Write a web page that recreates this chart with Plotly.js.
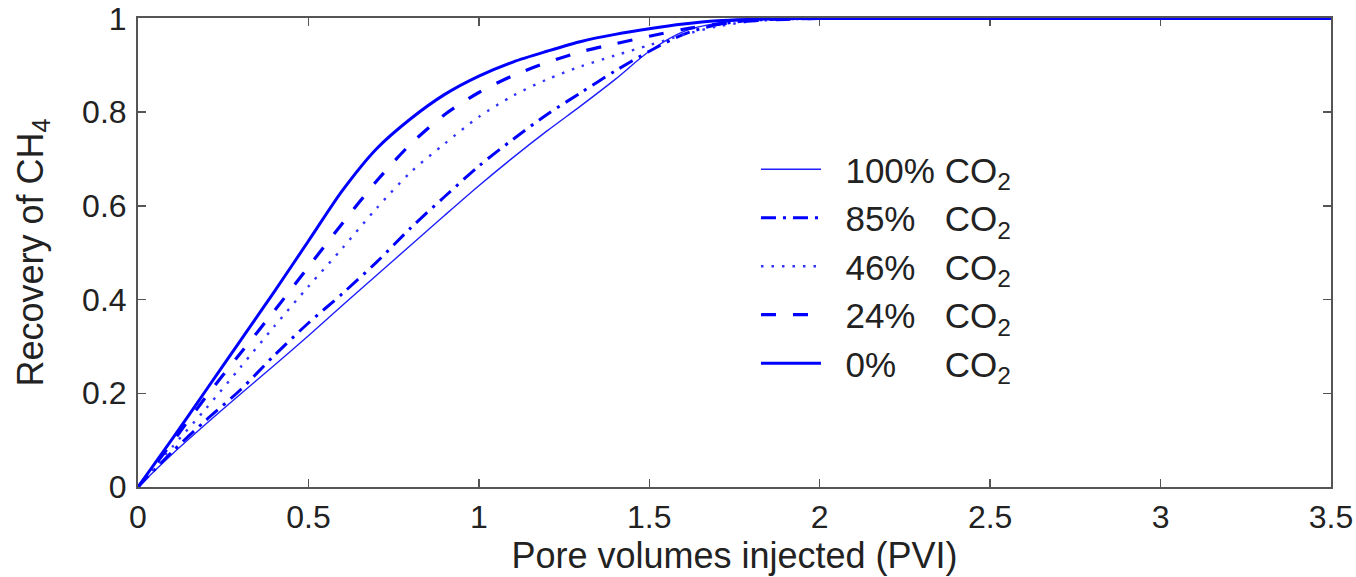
<!DOCTYPE html>
<html>
<head>
<meta charset="utf-8">
<script src="https://cdn.plot.ly/plotly-3.0.1.min.js"></script>
<style>html,body{margin:0;padding:0;background:#fff;}#chart{width:1356px;height:577px;}</style>
</head>
<body>
<div id="chart"></div>
<script>
// Pore volumes injected (PVI)
const pvi = [0, 0.1, 0.2, 0.3, 0.4, 0.5, 0.6, 0.7, 0.8, 0.9, 1.0, 1.1, 1.2, 1.3, 1.4, 1.5, 1.6, 1.7, 1.8, 1.9, 2.0, 2.5, 3.0, 3.5];

// Recovery of CH4 for each injected gas composition
const rec100 = [0, 0.070, 0.135, 0.198, 0.260, 0.323, 0.388, 0.452, 0.516, 0.580, 0.643, 0.703, 0.760, 0.814, 0.870, 0.930, 0.972, 0.990, 0.997, 0.999, 1, 1, 1, 1];
const rec85  = [0, 0.075, 0.143, 0.207, 0.281, 0.350, 0.413, 0.480, 0.553, 0.620, 0.685, 0.742, 0.795, 0.842, 0.888, 0.930, 0.966, 0.987, 0.996, 0.999, 1, 1, 1, 1];
const rec46  = [0, 0.085, 0.168, 0.255, 0.343, 0.428, 0.510, 0.595, 0.672, 0.733, 0.790, 0.835, 0.870, 0.898, 0.921, 0.943, 0.965, 0.983, 0.994, 0.998, 1, 1, 1, 1];
const rec24  = [0, 0.095, 0.193, 0.285, 0.376, 0.470, 0.563, 0.653, 0.732, 0.795, 0.842, 0.878, 0.906, 0.929, 0.946, 0.962, 0.977, 0.988, 0.995, 0.998, 1, 1, 1, 1];
const rec0   = [0, 0.102, 0.207, 0.312, 0.417, 0.525, 0.633, 0.722, 0.786, 0.838, 0.877, 0.907, 0.930, 0.951, 0.966, 0.978, 0.988, 0.995, 0.998, 1, 1, 1, 1, 1];

// Axis tick values
const xTicks = [0, 0.5, 1, 1.5, 2, 2.5, 3, 3.5];
const yTicks = [0, 0.2, 0.4, 0.6, 0.8, 1];

const NB = '\u00a0';
const names = [
  NB + NB + '100%' + NB + 'CO<sub>2</sub>',
  NB + NB + '85%' + NB + NB + NB + 'CO<sub>2</sub>',
  NB + NB + '46%' + NB + NB + NB + 'CO<sub>2</sub>',
  NB + NB + '24%' + NB + NB + NB + 'CO<sub>2</sub>',
  NB + NB + '0%' + NB + NB + NB + NB + NB + 'CO<sub>2</sub>'
];
const series = [rec100, rec85, rec46, rec24, rec0];
const styles = [
  {color: 'rgb(30,30,255)', width: 1.4, dash: 'solid'},
  {color: 'rgb(0,0,255)', width: 3, dash: '15px,7px,3px,7px'},
  {color: 'rgb(50,50,255)', width: 2.4, dash: '2.5px,8px'},
  {color: 'rgb(0,0,255)', width: 3.2, dash: '15px,17px'},
  {color: 'rgb(0,0,255)', width: 3, dash: 'solid'}
];

const traces = series.map((ys, i) => ({
  x: pvi, y: ys, type: 'scatter', mode: 'lines', name: names[i], legendgroup: 'g' + i,
  line: Object.assign({shape: 'spline', smoothing: 0.8}, styles[i])
}));

const fam = 'Liberation Sans, Arial, Helvetica, sans-serif';
const tickFnt = {family: fam, size: 32, color: '#222'};
const titleFnt = {family: fam, size: 36, color: '#222'};

const layout = {
  width: 1356, height: 577,
  margin: {l: 138, r: 25, t: 18, b: 90},
  paper_bgcolor: '#fff', plot_bgcolor: '#fff',
  font: titleFnt,
  showlegend: true,
  legend: {x: 0.518, y: 0.74, xanchor: 'left', yanchor: 'top', bgcolor: 'rgba(0,0,0,0)',
           font: {family: fam, size: 35, color: '#222'}, itemwidth: 60, tracegroupgap: 0},
  xaxis: {
    range: [0, 3.5], tickvals: xTicks,
    ticks: 'inside', ticklen: 8, tickwidth: 1.5, tickcolor: '#555',
    showline: true, linecolor: '#555', linewidth: 2, mirror: 'ticks',
    showgrid: false, zeroline: false, layer: 'below traces',
    tickfont: tickFnt, ticklabelstandoff: 1, ticklabeloverflow: 'allow',
    title: {text: 'Pore volumes injected (PVI)', font: titleFnt, standoff: 2}
  },
  yaxis: {
    range: [0, 1.001], tickvals: yTicks,
    ticks: 'inside', ticklen: 8, tickwidth: 1.5, tickcolor: '#555',
    showline: true, linecolor: '#555', linewidth: 2, mirror: 'ticks',
    showgrid: false, zeroline: false, layer: 'below traces',
    tickfont: tickFnt, ticklabelstandoff: 3, ticklabeloverflow: 'allow',
    title: {text: 'Recovery of CH<sub>4</sub>', font: titleFnt, standoff: 28}
  }
};

Plotly.newPlot('chart', traces, layout, {staticPlot: true, displayModeBar: false});
</script>
</body>
</html>
